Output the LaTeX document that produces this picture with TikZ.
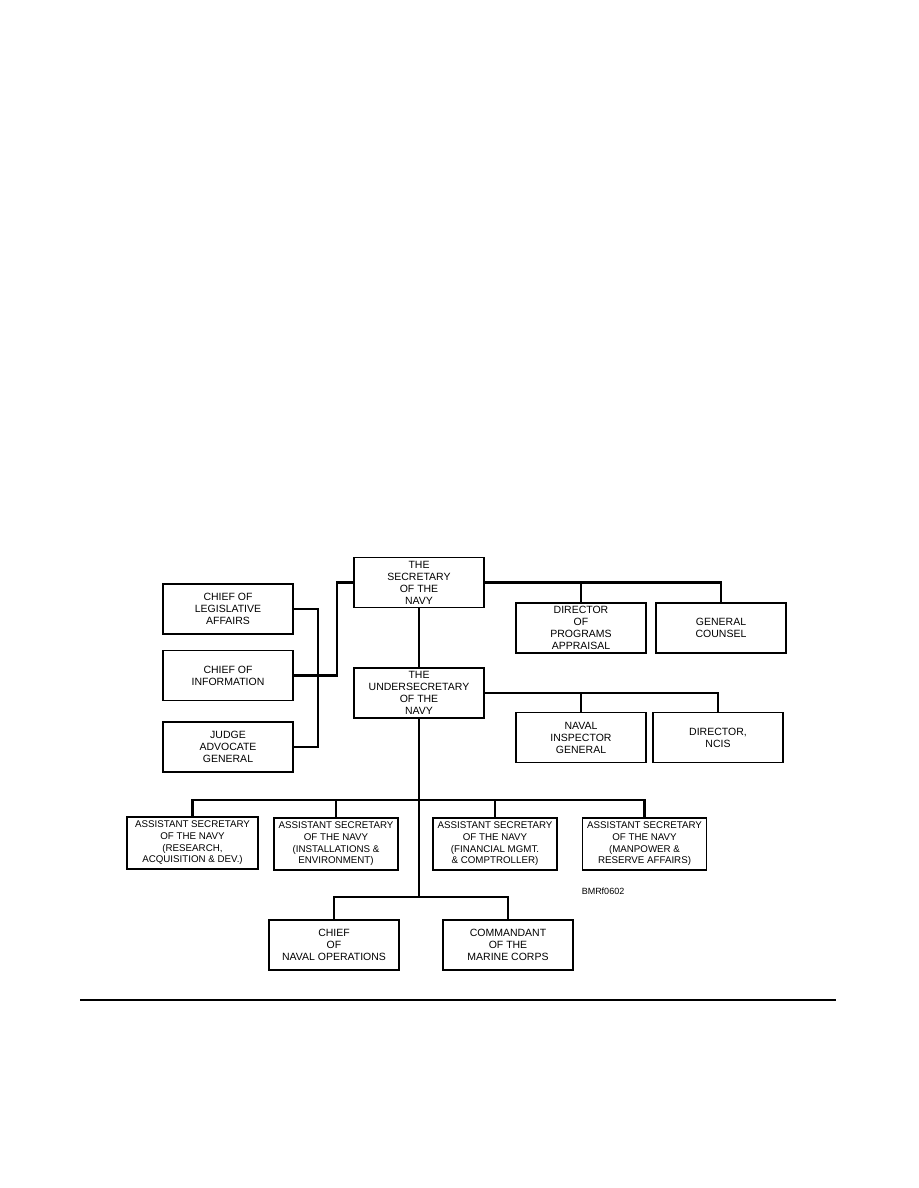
\documentclass[tikz,border=0pt]{standalone}
\usepackage{fontspec}
\setmainfont{Liberation Sans}
\usetikzlibrary{positioning}

\begin{document}
\begin{tikzpicture}[x=0.6667pt,y=-0.6667pt,
    orgbox/.style={draw, line width=0.9pt, minimum width=86.7pt, minimum height=33.3pt,
      inner sep=1pt, align=center, font=\fontsize{7}{8}\selectfont},
    asnbox/.style={orgbox, minimum width=82.7pt, minimum height=34.7pt,
      font=\fontsize{6.5}{7.8}\selectfont},
    link/.style={line width=1.5pt}]
    \useasboundingbox (0,0) rectangle (918,1188);
    % top of the chart
    \node[orgbox] (sec) at (419,582.5) {THE\\SECRETARY\\OF THE\\NAVY};
    \node[orgbox] (under) at (419,693) {THE\\UNDERSECRETARY\\OF THE\\NAVY};
    \node[orgbox] (legis) at (228,609) {CHIEF OF\\LEGISLATIVE\\AFFAIRS};
    \node[orgbox] (info) at (228,675.5) {CHIEF OF\\INFORMATION};
    \node[orgbox] (jag) at (228,747) {JUDGE\\ADVOCATE\\GENERAL};
    \node[orgbox] (dpa) at (581,628) {DIRECTOR\\OF\\PROGRAMS\\APPRAISAL};
    \node[orgbox] (gc) at (721,628) {GENERAL\\COUNSEL};
    \node[orgbox] (nig) at (581,737.5) {NAVAL\\INSPECTOR\\GENERAL};
    \node[orgbox] (ncis) at (718,737.5) {DIRECTOR,\\NCIS};
    % assistant secretaries
    \node[asnbox, minimum width=87.3pt] (asn1) at (192.5,843) {ASSISTANT SECRETARY\\OF THE NAVY\\(RESEARCH,\\ACQUISITION \& DEV.)};
    \node[asnbox] (asn2) at (336,844) {ASSISTANT SECRETARY\\OF THE NAVY\\(INSTALLATIONS \&\\ENVIRONMENT)};
    \node[asnbox] (asn3) at (495,844) {ASSISTANT SECRETARY\\OF THE NAVY\\(FINANCIAL MGMT.\\\& COMPTROLLER)};
    \node[asnbox] (asn4) at (644.5,844) {ASSISTANT SECRETARY\\OF THE NAVY\\(MANPOWER \&\\RESERVE AFFAIRS)};
    \node[orgbox] (cno) at (334,945) {CHIEF\\OF\\NAVAL OPERATIONS};
    \node[orgbox] (cmc) at (508,945) {COMMANDANT\\OF THE\\MARINE CORPS};
    \node[font=\fontsize{6}{7}\selectfont] (fig) at (603,891) {BMRf0602};
    % bends and buses
    \coordinate (lbus) at (318,675.5);
    \coordinate (sbend) at (337,630);
    \coordinate (abus) at (419,800);
    \coordinate (cbus) at (419,897);
    \draw[link] (legis.east) -| (lbus) |- (jag.east);
    \draw[link] (info.east) -| (sbend) |- (sec.west);
    \draw[link] (sec.south) -- (under.north);
    \draw[link] (sec.east) -| (gc.north);
    \draw[link] (dpa.north) -- (dpa.north |- sec.east);
    \draw[link] (under.east) -| (ncis.north);
    \draw[link] (nig.north) -- (nig.north |- under.east);
    \draw[link] (under.south) -- (cbus);
    \draw[link] (asn1.north) |- (abus) -| (asn4.north);
    \draw[link] (asn2.north) -- (asn2.north |- abus);
    \draw[link] (asn3.north) -- (asn3.north |- abus);
    \draw[link] (cno.north) |- (cbus) -| (cmc.north);
    % rule under the figure
    \draw[line width=0.8pt] (80,1000) -- (836,1000);
\end{tikzpicture}
\end{document}
